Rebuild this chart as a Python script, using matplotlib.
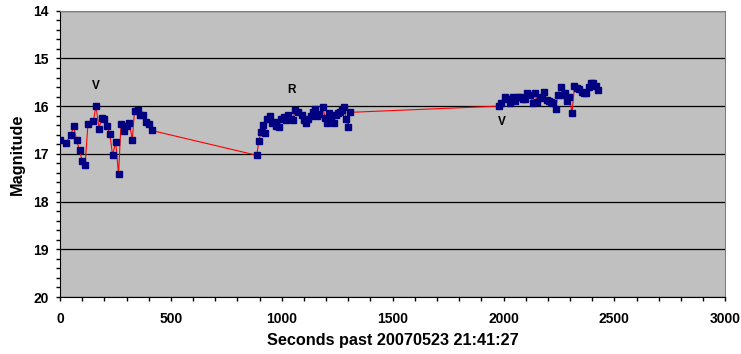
import matplotlib
matplotlib.use("Agg")
import matplotlib.pyplot as plt
from matplotlib.ticker import MultipleLocator

# --- DATA ---
# seconds past 20070523 21:41:27
t_v1 = [0, 25, 50, 61, 75, 88, 100, 113, 126, 151, 162, 176, 188, 199, 212,
        225, 237, 251, 264, 275, 289, 301, 312, 326, 336, 350, 362, 374, 388,
        400, 413]
mag_v1 = [16.71, 16.77, 16.61, 16.41, 16.72, 16.92, 17.15, 17.24, 16.38, 16.31,
          15.99, 16.47, 16.24, 16.26, 16.41, 16.59, 17.03, 16.75, 17.42, 16.38,
          16.53, 16.41, 16.35, 16.70, 16.10, 16.08, 16.19, 16.19, 16.33, 16.38,
          16.51]

t_r = [887, 897, 906, 915, 924, 935, 945, 956, 966, 976, 987, 998, 1008, 1019,
       1029, 1041, 1050, 1061, 1075, 1089, 1100, 1109, 1119, 1130, 1139, 1148,
       1158, 1169, 1184, 1196, 1205, 1215, 1223, 1234, 1243, 1254, 1262, 1271,
       1281, 1290, 1298, 1309]
mag_r = [17.03, 16.73, 16.55, 16.39, 16.57, 16.26, 16.20, 16.36, 16.33, 16.42,
         16.43, 16.26, 16.22, 16.29, 16.19, 16.26, 16.29, 16.08, 16.12, 16.19,
         16.29, 16.35, 16.28, 16.21, 16.12, 16.07, 16.21, 16.17, 16.01, 16.24,
         16.36, 16.14, 16.22, 16.36, 16.19, 16.15, 16.12, 16.08, 16.01, 16.26,
         16.43, 16.13]

t_v2 = [1979, 1990, 2006, 2019, 2031, 2041, 2053, 2064, 2074, 2086, 2097, 2108,
        2120, 2131, 2141, 2152, 2164, 2174, 2182, 2194, 2205, 2215, 2224, 2235,
        2245, 2257, 2266, 2277, 2285, 2296, 2309, 2320, 2331, 2341, 2352, 2362,
        2373, 2384, 2394, 2404, 2416, 2424]
mag_v2 = [16.00, 15.94, 15.80, 15.86, 15.94, 15.80, 15.89, 15.80, 15.80, 15.86,
          15.86, 15.73, 15.77, 15.93, 15.72, 15.91, 15.84, 15.80, 15.70, 15.87,
          15.89, 15.91, 15.94, 16.05, 15.77, 15.59, 15.77, 15.73, 15.89, 15.80,
          16.14, 15.57, 15.61, 15.65, 15.70, 15.72, 15.73, 15.59, 15.52, 15.52,
          15.58, 15.66]

# filter labels written on the chart
labels = ["V", "R", "V"]
label_t = [161, 1045, 1994]
label_mag = [15.57, 15.66, 16.33]

t_all = t_v1 + t_r + t_v2
mag_all = mag_v1 + mag_r + mag_v2

# --- PLOT ---
plt.rcParams['font.family'] = ['Liberation Sans', 'DejaVu Sans']
plt.rcParams['font.weight'] = 'bold'

W, H = 741, 354
fig = plt.figure(figsize=(W / 100, H / 100), dpi=100)
ax = fig.add_axes([60 / W, 1 - 297 / H, (725.3 - 60) / W, (297 - 10.7) / H])
ax.set_facecolor('#C0C0C0')

# red connecting line, navy square markers on top
ax.plot(t_all, mag_all, color='red', linewidth=0.8, zorder=2)
ax.plot(t_all, mag_all, linestyle='none', marker='s', markersize=4.8,
        markerfacecolor='#000080', markeredgecolor='#000080', zorder=3)

for lab, x, y in zip(labels, label_t, label_mag):
    ax.text(x, y, lab, fontsize=8.5, fontweight='bold', ha='center', va='center')

# magnitudes: brighter is up
ax.set_xlim(0, 3000)
ax.set_ylim(20, 14)

ax.xaxis.set_major_locator(MultipleLocator(500))
ax.xaxis.set_minor_locator(MultipleLocator(100))
ax.yaxis.set_major_locator(MultipleLocator(1))
ax.yaxis.set_minor_locator(MultipleLocator(0.2))
ax.tick_params(which='both', direction='out', length=3, width=1, labelsize=10)
ax.tick_params(axis='x', pad=8)
ax.tick_params(axis='y', pad=5)
for lbl in ax.get_xticklabels() + ax.get_yticklabels():
    lbl.set_fontweight('bold')

ax.grid(True, which='major', axis='y', color='black', linewidth=0.9)
ax.set_axisbelow(True)

ax.spines['top'].set_color('#808080')
ax.spines['right'].set_color('#808080')
ax.spines['left'].set_color('black')
ax.spines['bottom'].set_color('black')

ax.set_xlabel('Seconds past 20070523 21:41:27', fontsize=11.7, fontweight='bold',
              labelpad=5)
ax.set_ylabel('Magnitude', fontsize=11.7, fontweight='bold', labelpad=6)

fig.savefig('out.png', dpi=100)
